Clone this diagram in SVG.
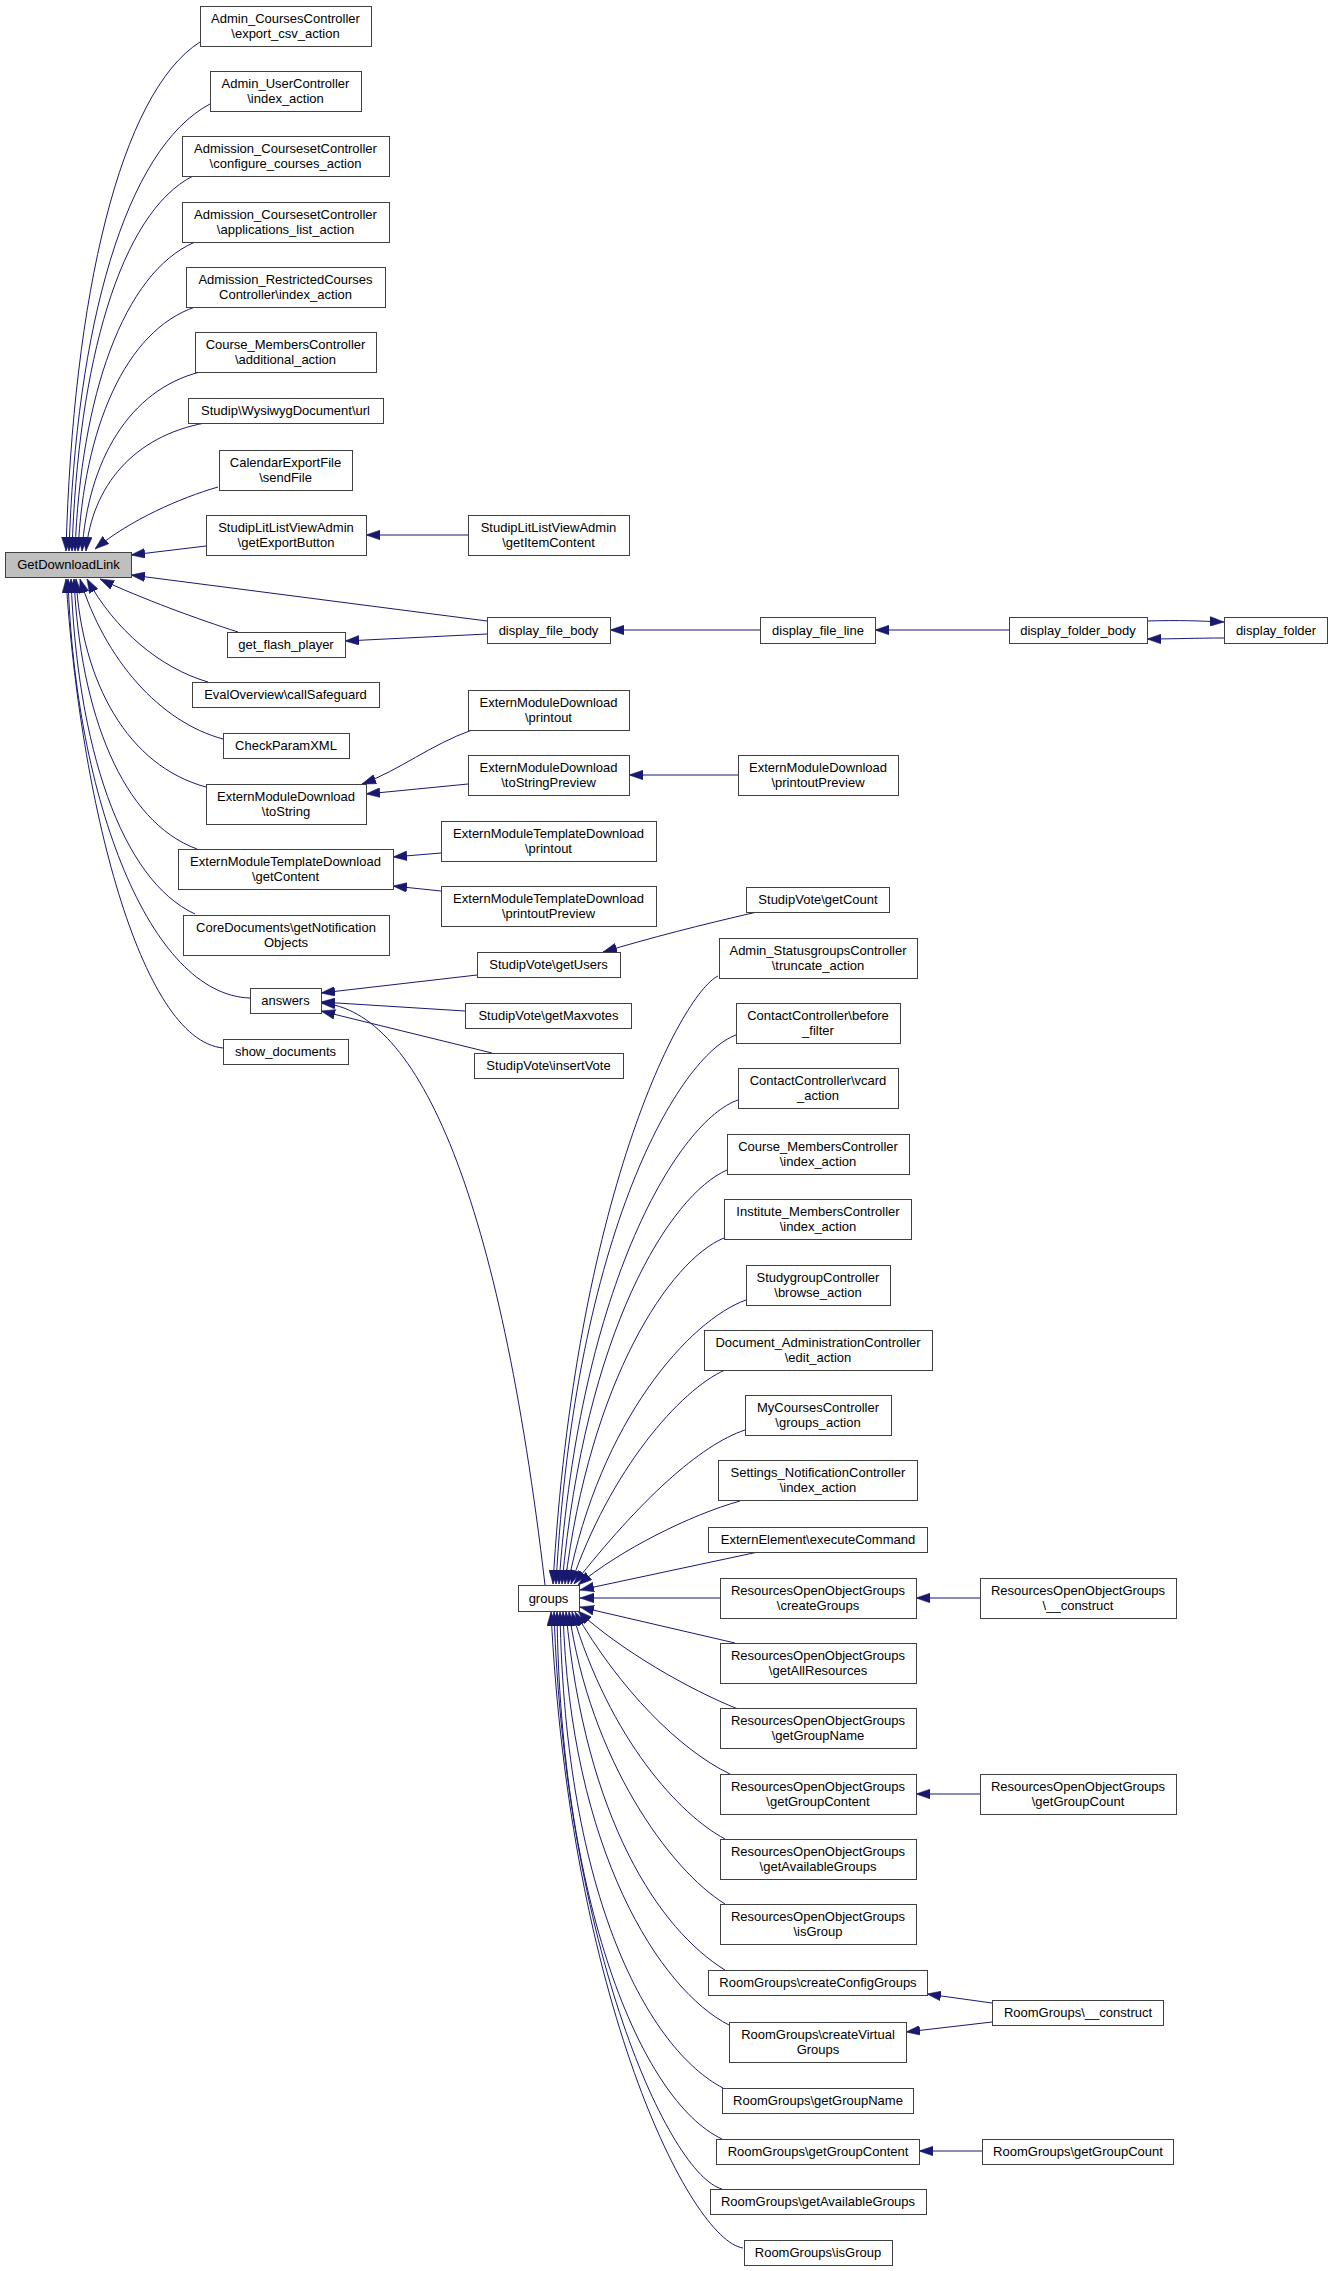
<svg xmlns="http://www.w3.org/2000/svg" width="1332" height="2271" viewBox="0 0 1332 2271">
<defs>
<style>
.n rect{fill:#ffffff;stroke:#404040;stroke-width:1}
.root rect{fill:#bfbfbf}
text{font-family:"Liberation Sans",Arial,Helvetica,sans-serif;font-size:13px;text-anchor:middle;fill:#000000}
#edges path{fill:none;stroke:#191970;stroke-width:1;marker-end:url(#arr)}
</style>
<marker id="arr" markerUnits="userSpaceOnUse" markerWidth="14" markerHeight="10" viewBox="0 0 13 9" refX="13" refY="4.5" orient="auto"><path d="M0,0 L13,4.5 L0,9 z" fill="#191970" stroke="#191970" stroke-width="0.5"/></marker>
</defs>
<rect x="0" y="0" width="1332" height="2271" fill="#ffffff"/>
<g id="edges">
<path d="M200,42 C120,93 73,296 66,551"/>
<path d="M210,104 C125,149 76,327 69,551"/>
<path d="M193,176 C120,213 78,363 72,551"/>
<path d="M195,242 C123,273 81,396 75,551"/>
<path d="M195,307 C125,331 84,428 78,551"/>
<path d="M200,372 C129,390 88,461 82,551"/>
<path d="M205,423 C134,436 92,486 86,551"/>
<path d="M218,487 C180,498 130,520 95,549"/>
<path d="M206,546 L131,555"/>
<path d="M487,621 L131,575"/>
<path d="M238,632 C200,620 140,598 100,579"/>
<path d="M208,682 C160,668 115,630 87,579"/>
<path d="M223,739 C160,722 105,660 80,579"/>
<path d="M206,787 C128,766 82,683 76,579"/>
<path d="M197,849 C123,822 80,714 74,579"/>
<path d="M195,914 C121,880 77,746 71,579"/>
<path d="M250,998 C150,995 75,800 68,579"/>
<path d="M223,1048 C140,1040 80,800 66,579"/>
<path d="M468,535 L366,535"/>
<path d="M487,634 L345,641"/>
<path d="M760,630 L610,630"/>
<path d="M1009,630 L875,630"/>
<path d="M1147,621 C1180,620 1200,621 1224,622"/>
<path d="M1224,638 C1195,638 1175,639 1147,639"/>
<path d="M472,730 C430,745 400,770 362,784"/>
<path d="M468,784 L366,794"/>
<path d="M738,775 L629,775"/>
<path d="M441,853 L393,857"/>
<path d="M441,891 L393,886"/>
<path d="M477,975 L321,993"/>
<path d="M465,1011 L321,1002"/>
<path d="M492,1053 L321,1011"/>
<path d="M545,1585 C500,1200 420,1010 321,1003"/>
<path d="M757,912 C700,925 650,938 603,952"/>
<path d="M718,976 C680,995 575,1200 553,1584"/>
<path d="M736,1035 C680,1055 575,1230 556,1584"/>
<path d="M738,1100 C680,1120 580,1280 559,1584"/>
<path d="M727,1170 C670,1195 585,1330 562,1584"/>
<path d="M724,1238 C670,1260 590,1380 565,1584"/>
<path d="M746,1300 C690,1320 600,1420 568,1584"/>
<path d="M725,1370 C680,1390 610,1470 571,1584"/>
<path d="M745,1430 C700,1445 640,1500 574,1584"/>
<path d="M740,1501 C690,1515 620,1550 578,1585"/>
<path d="M758,1552 L580,1590"/>
<path d="M720,1598 L580,1598"/>
<path d="M735,1643 L580,1607"/>
<path d="M738,1709 C690,1690 620,1650 578,1611"/>
<path d="M730,1774 C680,1750 620,1690 575,1612"/>
<path d="M725,1839 C680,1815 610,1740 572,1612"/>
<path d="M725,1904 C670,1870 590,1760 569,1612"/>
<path d="M725,1970 C660,1930 585,1820 566,1612"/>
<path d="M729,2025 C660,1990 570,1850 563,1612"/>
<path d="M723,2088 C650,2050 565,1900 560,1612"/>
<path d="M722,2139 C640,2100 560,1900 557,1612"/>
<path d="M722,2189 C670,2175 565,1950 554,1612"/>
<path d="M743,2248 C690,2240 570,2000 551,1612"/>
<path d="M980,1598 L916,1598"/>
<path d="M980,1794 L916,1794"/>
<path d="M992,2003 L927,1994"/>
<path d="M992,2022 L906,2032"/>
<path d="M982,2151 L919,2151"/>
</g>
<g id="n_export" class="n"><rect x="200.5" y="6.5" width="171" height="40"/><text x="285.5" y="23">Admin_CoursesController</text><text x="285.5" y="37.5">\export_csv_action</text></g>
<g id="n_adminuser" class="n"><rect x="210.5" y="71.5" width="151" height="40"/><text x="285.5" y="88">Admin_UserController</text><text x="285.5" y="102.5">\index_action</text></g>
<g id="n_configure" class="n"><rect x="182.5" y="136.5" width="207" height="40"/><text x="285.5" y="153">Admission_CoursesetController</text><text x="285.5" y="167.5">\configure_courses_action</text></g>
<g id="n_applications" class="n"><rect x="182.5" y="202.5" width="207" height="40"/><text x="285.5" y="219">Admission_CoursesetController</text><text x="285.5" y="233.5">\applications_list_action</text></g>
<g id="n_restricted" class="n"><rect x="186.5" y="267.5" width="199" height="40"/><text x="285.5" y="284">Admission_RestrictedCourses</text><text x="285.5" y="298.5">Controller\index_action</text></g>
<g id="n_course_add" class="n"><rect x="195.5" y="332.5" width="181" height="40"/><text x="285.5" y="349">Course_MembersController</text><text x="285.5" y="363.5">\additional_action</text></g>
<g id="n_wysiwyg" class="n"><rect x="188.5" y="398.5" width="195" height="25"/><text x="285.5" y="415">Studip\WysiwygDocument\url</text></g>
<g id="n_calendar" class="n"><rect x="219.5" y="450.5" width="133" height="40"/><text x="285.5" y="467">CalendarExportFile</text><text x="285.5" y="481.5">\sendFile</text></g>
<g id="n_getexport" class="n"><rect x="206.5" y="515.5" width="160" height="40"/><text x="286" y="532">StudipLitListViewAdmin</text><text x="286" y="546.5">\getExportButton</text></g>
<g id="n_root" class="n root"><rect x="5.5" y="552.5" width="126" height="25"/><text x="68.5" y="569">GetDownloadLink</text></g>
<g id="n_flash" class="n"><rect x="227.5" y="632.5" width="118" height="25"/><text x="286" y="649">get_flash_player</text></g>
<g id="n_eval" class="n"><rect x="192.5" y="682.5" width="187" height="25"/><text x="285.5" y="699">EvalOverview\callSafeguard</text></g>
<g id="n_check" class="n"><rect x="223.5" y="733.5" width="126" height="25"/><text x="286" y="750">CheckParamXML</text></g>
<g id="n_emd_tostring" class="n"><rect x="206.5" y="784.5" width="160" height="40"/><text x="286" y="801">ExternModuleDownload</text><text x="286" y="815.5">\toString</text></g>
<g id="n_emtd_getcontent" class="n"><rect x="178.5" y="849.5" width="215" height="40"/><text x="285.5" y="866">ExternModuleTemplateDownload</text><text x="285.5" y="880.5">\getContent</text></g>
<g id="n_core" class="n"><rect x="183.5" y="915.5" width="206" height="40"/><text x="286" y="932">CoreDocuments\getNotification</text><text x="286" y="946.5">Objects</text></g>
<g id="n_answers" class="n"><rect x="250.5" y="988.5" width="71" height="25"/><text x="285.5" y="1005">answers</text></g>
<g id="n_showdocs" class="n"><rect x="223.5" y="1039.5" width="125" height="25"/><text x="285.5" y="1056">show_documents</text></g>
<g id="n_getitem" class="n"><rect x="468.5" y="515.5" width="161" height="40"/><text x="548.5" y="532">StudipLitListViewAdmin</text><text x="548.5" y="546.5">\getItemContent</text></g>
<g id="n_filebody" class="n"><rect x="487.5" y="617.5" width="123" height="26"/><text x="548.5" y="634.5">display_file_body</text></g>
<g id="n_emd_printout" class="n"><rect x="468.5" y="690.5" width="161" height="40"/><text x="548.5" y="707">ExternModuleDownload</text><text x="548.5" y="721.5">\printout</text></g>
<g id="n_emd_tostringprev" class="n"><rect x="468.5" y="755.5" width="161" height="40"/><text x="548.5" y="772">ExternModuleDownload</text><text x="548.5" y="786.5">\toStringPreview</text></g>
<g id="n_emtd_printout" class="n"><rect x="441.5" y="821.5" width="215" height="40"/><text x="548.5" y="838">ExternModuleTemplateDownload</text><text x="548.5" y="852.5">\printout</text></g>
<g id="n_emtd_printoutprev" class="n"><rect x="441.5" y="886.5" width="215" height="40"/><text x="548.5" y="903">ExternModuleTemplateDownload</text><text x="548.5" y="917.5">\printoutPreview</text></g>
<g id="n_getusers" class="n"><rect x="477.5" y="952.5" width="143" height="25"/><text x="548.5" y="969">StudipVote\getUsers</text></g>
<g id="n_getmax" class="n"><rect x="465.5" y="1003.5" width="166" height="25"/><text x="548.5" y="1020">StudipVote\getMaxvotes</text></g>
<g id="n_insert" class="n"><rect x="474.5" y="1053.5" width="149" height="25"/><text x="548.5" y="1070">StudipVote\insertVote</text></g>
<g id="n_groups" class="n"><rect x="518.5" y="1585.5" width="61" height="26"/><text x="548.5" y="1602.5">groups</text></g>
<g id="n_fileline" class="n"><rect x="760.5" y="617.5" width="115" height="26"/><text x="818" y="634.5">display_file_line</text></g>
<g id="n_emd_printoutprev" class="n"><rect x="738.5" y="755.5" width="160" height="40"/><text x="818" y="772">ExternModuleDownload</text><text x="818" y="786.5">\printoutPreview</text></g>
<g id="n_getcount" class="n"><rect x="746.5" y="887.5" width="143" height="25"/><text x="818" y="904">StudipVote\getCount</text></g>
<g id="n_statusgroups" class="n"><rect x="719.5" y="938.5" width="198" height="40"/><text x="818" y="955">Admin_StatusgroupsController</text><text x="818" y="969.5">\truncate_action</text></g>
<g id="n_contact_before" class="n"><rect x="736.5" y="1003.5" width="164" height="40"/><text x="818" y="1020">ContactController\before</text><text x="818" y="1034.5">_filter</text></g>
<g id="n_contact_vcard" class="n"><rect x="738.5" y="1068.5" width="160" height="40"/><text x="818" y="1085">ContactController\vcard</text><text x="818" y="1099.5">_action</text></g>
<g id="n_course_index" class="n"><rect x="727.5" y="1134.5" width="182" height="40"/><text x="818" y="1151">Course_MembersController</text><text x="818" y="1165.5">\index_action</text></g>
<g id="n_inst_index" class="n"><rect x="724.5" y="1199.5" width="187" height="40"/><text x="818" y="1216">Institute_MembersController</text><text x="818" y="1230.5">\index_action</text></g>
<g id="n_studygroup" class="n"><rect x="746.5" y="1265.5" width="144" height="40"/><text x="818" y="1282">StudygroupController</text><text x="818" y="1296.5">\browse_action</text></g>
<g id="n_docadmin" class="n"><rect x="704.5" y="1330.5" width="228" height="40"/><text x="818" y="1347">Document_AdministrationController</text><text x="818" y="1361.5">\edit_action</text></g>
<g id="n_mycourses" class="n"><rect x="745.5" y="1395.5" width="146" height="40"/><text x="818" y="1412">MyCoursesController</text><text x="818" y="1426.5">\groups_action</text></g>
<g id="n_settings" class="n"><rect x="718.5" y="1460.5" width="199" height="40"/><text x="818" y="1477">Settings_NotificationController</text><text x="818" y="1491.5">\index_action</text></g>
<g id="n_externelement" class="n"><rect x="708.5" y="1527.5" width="219" height="25"/><text x="818" y="1544">ExternElement\executeCommand</text></g>
<g id="n_roog_create" class="n"><rect x="720.5" y="1578.5" width="196" height="40"/><text x="818" y="1595">ResourcesOpenObjectGroups</text><text x="818" y="1609.5">\createGroups</text></g>
<g id="n_roog_getall" class="n"><rect x="720.5" y="1643.5" width="196" height="40"/><text x="818" y="1660">ResourcesOpenObjectGroups</text><text x="818" y="1674.5">\getAllResources</text></g>
<g id="n_roog_getname" class="n"><rect x="720.5" y="1708.5" width="196" height="40"/><text x="818" y="1725">ResourcesOpenObjectGroups</text><text x="818" y="1739.5">\getGroupName</text></g>
<g id="n_roog_getcontent" class="n"><rect x="720.5" y="1774.5" width="196" height="40"/><text x="818" y="1791">ResourcesOpenObjectGroups</text><text x="818" y="1805.5">\getGroupContent</text></g>
<g id="n_roog_getavail" class="n"><rect x="720.5" y="1839.5" width="196" height="40"/><text x="818" y="1856">ResourcesOpenObjectGroups</text><text x="818" y="1870.5">\getAvailableGroups</text></g>
<g id="n_roog_isgroup" class="n"><rect x="720.5" y="1904.5" width="196" height="40"/><text x="818" y="1921">ResourcesOpenObjectGroups</text><text x="818" y="1935.5">\isGroup</text></g>
<g id="n_rg_createconfig" class="n"><rect x="708.5" y="1970.5" width="219" height="25"/><text x="818" y="1987">RoomGroups\createConfigGroups</text></g>
<g id="n_rg_createvirtual" class="n"><rect x="729.5" y="2022.5" width="177" height="40"/><text x="818" y="2039">RoomGroups\createVirtual</text><text x="818" y="2053.5">Groups</text></g>
<g id="n_rg_getname" class="n"><rect x="722.5" y="2088.5" width="191" height="25"/><text x="818" y="2105">RoomGroups\getGroupName</text></g>
<g id="n_rg_getcontent" class="n"><rect x="716.5" y="2139.5" width="203" height="25"/><text x="818" y="2156">RoomGroups\getGroupContent</text></g>
<g id="n_rg_getavail" class="n"><rect x="710.5" y="2189.5" width="216" height="25"/><text x="818" y="2206">RoomGroups\getAvailableGroups</text></g>
<g id="n_rg_isgroup" class="n"><rect x="744.5" y="2240.5" width="148" height="25"/><text x="818" y="2257">RoomGroups\isGroup</text></g>
<g id="n_folderbody" class="n"><rect x="1009.5" y="617.5" width="138" height="26"/><text x="1078" y="634.5">display_folder_body</text></g>
<g id="n_folder" class="n"><rect x="1224.5" y="617.5" width="103" height="26"/><text x="1276" y="634.5">display_folder</text></g>
<g id="n_roog_construct" class="n"><rect x="980.5" y="1578.5" width="196" height="40"/><text x="1078" y="1595">ResourcesOpenObjectGroups</text><text x="1078" y="1609.5">\__construct</text></g>
<g id="n_roog_getcount" class="n"><rect x="980.5" y="1774.5" width="196" height="40"/><text x="1078" y="1791">ResourcesOpenObjectGroups</text><text x="1078" y="1805.5">\getGroupCount</text></g>
<g id="n_rg_construct" class="n"><rect x="992.5" y="2000.5" width="171" height="25"/><text x="1078" y="2017">RoomGroups\__construct</text></g>
<g id="n_rg_getcount" class="n"><rect x="982.5" y="2139.5" width="191" height="25"/><text x="1078" y="2156">RoomGroups\getGroupCount</text></g>
</svg>
